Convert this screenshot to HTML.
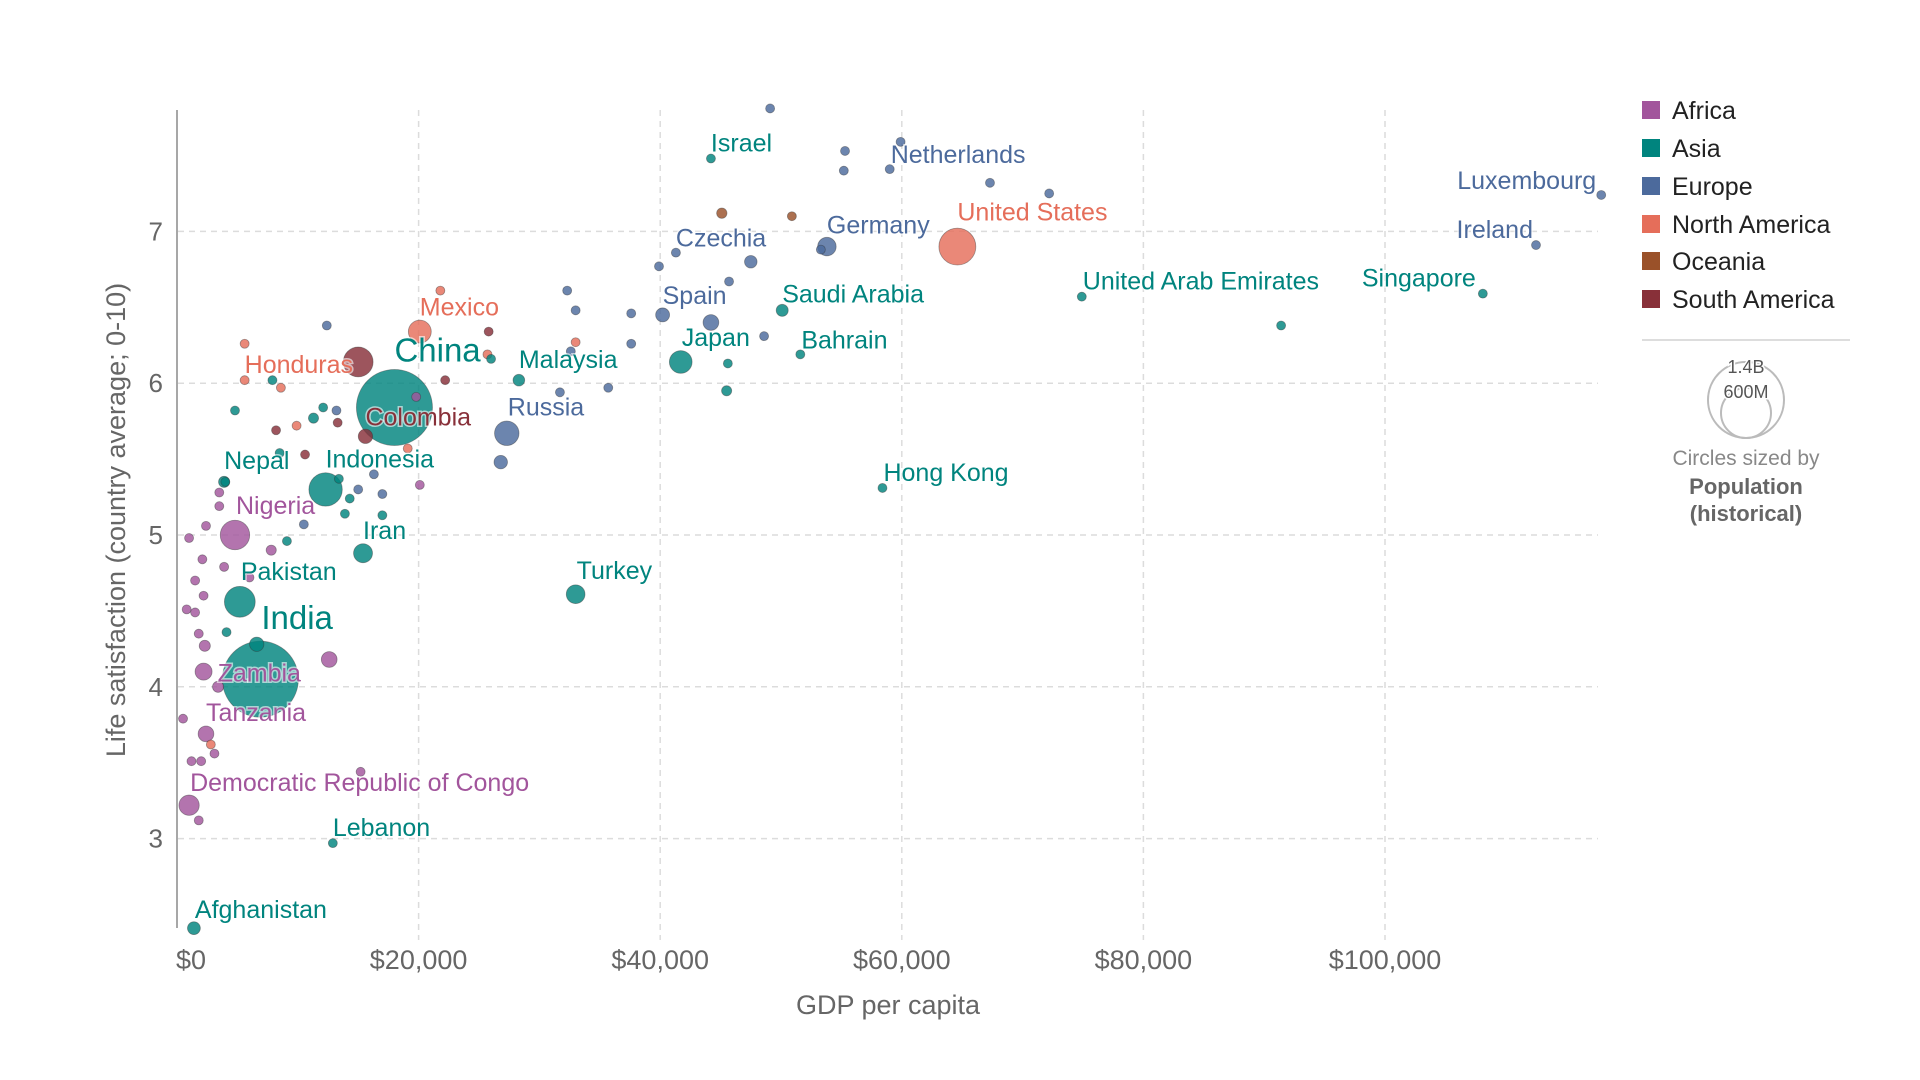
<!DOCTYPE html>
<html><head><meta charset="utf-8"><style>
html,body{margin:0;padding:0;background:#fff}
svg{display:block}
text{font-family:"Liberation Sans",sans-serif}
</style></head><body>
<svg id="chart" width="1920" height="1080" viewBox="0 0 1920 1080" xmlns="http://www.w3.org/2000/svg">
<g id="grid"></g>
<g id="axes"></g>
<g id="dots"></g>
<g id="labels"></g>
<g id="legend"></g>
</svg>
<script>
// ---- data ----
const regions = ["Africa","Asia","Europe","North America","Oceania","South America"];
const regionColors = ["#a2559c","#00847e","#4c6a9c","#e56e5a","#9a5129","#883039"];
const xTicks = [0,20000,40000,60000,80000,100000];
const xTickLabels = ["$0","$20,000","$40,000","$60,000","$80,000","$100,000"];
const yTicks = [3,4,5,6,7];
const yTickLabels = ["3","4","5","6","7"];

// labeled countries
const labNames = ["Afghanistan","Lebanon","Democratic Republic of Congo","Tanzania","Zambia","India","Pakistan","Iran","Nigeria","Indonesia","Nepal","Colombia","China","Honduras","Mexico","Malaysia","Russia","Turkey","Japan","Spain","Czechia","Israel","Germany","Saudi Arabia","Bahrain","Hong Kong","Netherlands","United States","United Arab Emirates","Singapore","Ireland","Luxembourg"];
const labRegion = [1,1,0,0,0,1,1,1,0,1,1,5,1,3,3,1,2,1,1,2,2,1,2,1,1,1,2,3,1,1,2,2];
const labGdp = [1400,12900,1000,2400,2200,6900,5200,15400,4800,12300,3900,15600,18000,5600,20100,28300,27300,33000,41700,40200,41300,44200,53800,50100,51600,58400,59000,64600,74900,108100,112500,117900];
const labLs = [2.41,2.97,3.22,3.69,4.10,4.05,4.56,4.88,5.00,5.30,5.35,5.65,5.84,6.02,6.34,6.02,5.67,4.61,6.14,6.45,6.86,7.48,6.90,6.48,6.19,5.31,7.41,6.90,6.57,6.59,6.91,7.24];
const labPop = [40,5,100,60,70,1400,230,87,210,270,30,50,1400,10,127,33,145,85,125,47,10,9,83,35,1.5,7,17,330,10,6,5,0.6];

// unlabeled countries
const othRegion = [2,2,2,2,2,2,2,2,2,2,2,2,2,2,2,2,2,2,2,2,2,2,2,2,2,2, 1,1,1,1,1,1,1,1,1,1,1,1,1,1,1,1,1, 0,0,0,0,0,0,0,0,0,0,0,0,0,0,0,0,0,0,0,0,0,0,0,0, 3,3,3,3,3,3,3,4,4,3, 5,5,5,5,5,5];
const othGdp = [49100,55300,55200,59900,67300,72200,47500,45700,44200,39900,48600,37600,37600,32300,33000,32600,35700,31700,26800,12400,13200,17000,15000,10500,16300,53300, 45600,45500,26000,91400,8500,11300,7900,4800,12100,9100,4000,4100,13400,14300,13900,17000,6600, 1000,2400,3500,3500,3900,1500,1500,1800,2300,2100,2200,800,7800,12600,500,1200,2000,3100,15200,20100,19800,3400,1800,6000, 5600,8600,9900,19100,21800,25700,33000,45100,50900,2800, 8200,10600,13300,15000,22200,25800];
const othLs = [7.81,7.53,7.40,7.59,7.32,7.25,6.80,6.67,6.40,6.77,6.31,6.46,6.26,6.61,6.48,6.21,5.97,5.94,5.48,6.38,5.82,5.27,5.30,5.07,5.40,6.88, 6.13,5.95,6.16,6.38,5.54,5.77,6.02,5.82,5.84,4.96,5.35,4.36,5.37,5.24,5.14,5.13,4.28, 4.98,5.06,5.19,5.28,4.79,4.70,4.49,4.35,4.27,4.84,4.60,4.51,4.90,4.18,3.79,3.51,3.51,3.56,3.44,5.33,5.91,4.00,3.12,4.72, 6.26,5.97,5.72,5.57,6.61,6.19,6.27,7.12,7.10,3.62, 5.69,5.53,5.74,6.14,6.02,6.34];
const othPop = [5.5,6,11,9,10,5,38,19,60,10,3,2.8,2,5,2,1.3,1.9,6,44,4,3,7,2,0.6,3,11, 1,25,1,2.7,20,25,4,2,5,15,10,20,7,6,3,4,50, 12,15,10,7,20,20,12,15,30,10,8,13,25,60,10,8,12,10,3,3,6,30,8,4, 4,6,7,4,5,3,4,26,5,11, 10,10,5,215,3,8];

// ---- scales ----
const X0 = 177, XW = 241.6/20000;
const Y7 = 231.4, YU = 151.8;
const xs = v => X0 + v*XW;
const ys = v => Y7 - (v-7)*YU;
const rs = p => Math.max(4.5, 38*Math.sqrt(p/1400));
const NS = "http://www.w3.org/2000/svg";
function mk(tag, attrs, parent){const e=document.createElementNS(NS,tag);for(const k in attrs)e.setAttribute(k,attrs[k]);parent.appendChild(e);return e;}

const grid = document.getElementById('grid');
yTicks.forEach((t,i)=>{
  const l = mk('line',{x1:178,x2:1598,y1:ys(t),y2:ys(t),stroke:'#dcdcdc','stroke-width':1.5,'stroke-dasharray':'6,5'},grid);
  
  
});
xTicks.forEach((t,i)=>{
  if(i===0) return;
  const l = mk('line',{x1:xs(t),x2:xs(t),y1:110,y2:940,stroke:'#dcdcdc','stroke-width':1.5,'stroke-dasharray':'6,5'},grid);
  
  
});

const axes = document.getElementById('axes');
const al = mk('line',{x1:177,x2:177,y1:110,y2:928,stroke:'#8a8a8a','stroke-width':1.5},axes);


yTicks.forEach((t,i)=>{
  const tx = mk('text',{x:163,y:ys(t)+9,'text-anchor':'end','font-size':26,fill:'#666'},axes);
  tx.textContent = yTickLabels[i];
  
  
});
xTicks.forEach((t,i)=>{
  const tx = mk('text',{x:i===0?xs(t)-1:xs(t),y:969,'text-anchor':i===0?'start':'middle','font-size':27,fill:'#666'},axes);
  tx.textContent = xTickLabels[i];
  
  
});
const xt = mk('text',{x:888,y:1014,'text-anchor':'middle','font-size':27,fill:'#666'},axes);
xt.textContent='GDP per capita';


const yt = mk('text',{x:0,y:0,'text-anchor':'middle','font-size':27,fill:'#666',transform:'translate(125,520) rotate(-90)'},axes);
yt.textContent='Life satisfaction (country average; 0-10)';



// dots: draw all, larger first
const dots = document.getElementById('dots');
const all = [];
othGdp.forEach((g,i)=>all.push({g,l:othLs[i],p:othPop[i],r:othRegion[i],n:''}));
labGdp.forEach((g,i)=>all.push({g,l:labLs[i],p:labPop[i],r:labRegion[i],n:labNames[i]}));
all.sort((a,b)=>b.p-a.p);
all.forEach(d=>{
  const c = mk('circle',{cx:xs(d.g),cy:ys(d.l),r:rs(d.p),fill:regionColors[d.r],'fill-opacity':0.82,stroke:'#333','stroke-opacity':0.45,'stroke-width':0.8},dots);
  
  
});

// label offsets (pixel placement, not data)
const labDx = [1,0,1,0,14,1,1,0,1,0,0,0,0,0,0,0,1,1,1,0,0,0,0,0,1,1,1,0,1,-7,-3,-5];
const labDy = [-10,-7,-14,-13,10,-50,-22,-14,-21,-22,-13,-11,-46,-7,-16,-12,-18,-15,-16,-11,-6,-7,-13,-8,-6,-7,-6,-26,-7,-7,-7,-6];
const labels = document.getElementById('labels');
labNames.forEach((n,i)=>{
  const big = (n==='China'||n==='India');
  const end = labDx[i]<0;
  const t = mk('text',{x:xs(labGdp[i])+labDx[i],y:ys(labLs[i])+labDy[i],'font-size':big?33:25,fill:regionColors[labRegion[i]],'text-anchor':end?'end':'start',stroke:'#fff','stroke-width':3,'paint-order':'stroke','stroke-opacity':0.6},labels);
  t.textContent = n;
  
  
});

// legend
const lg = document.getElementById('legend');
const rowY = [110,148,186,224,261,299];
regions.forEach((r,i)=>{
  const s = mk('rect',{x:1642,y:rowY[i]-9,width:18,height:18,fill:regionColors[i]},lg);
  
  
  const t = mk('text',{x:1672,y:rowY[i]+9,'font-size':25,fill:'#222'},lg);
  t.textContent = r;
  
  
});
const sep = mk('line',{x1:1642,x2:1850,y1:340,y2:340,stroke:'#ddd','stroke-width':2},lg);


const c1 = mk('circle',{cx:1746,cy:400,r:38,fill:'none',stroke:'#bbb','stroke-width':2},lg);


const c2 = mk('circle',{cx:1746,cy:413,r:25,fill:'none',stroke:'#bbb','stroke-width':2},lg);


const sl1 = mk('text',{x:1746,y:373,'text-anchor':'middle','font-size':18,fill:'#555',stroke:'#fff','stroke-width':3,'paint-order':'stroke'},lg);
sl1.textContent='1.4B';


const sl2 = mk('text',{x:1746,y:398,'text-anchor':'middle','font-size':18,fill:'#555',stroke:'#fff','stroke-width':3,'paint-order':'stroke'},lg);
sl2.textContent='600M';


const lt1 = mk('text',{x:1746,y:465,'text-anchor':'middle','font-size':21,fill:'#888'},lg);
lt1.textContent='Circles sized by';


const lt2 = mk('text',{x:1746,y:494,'text-anchor':'middle','font-size':22,'font-weight':'bold',fill:'#666'},lg);
lt2.textContent='Population';


const lt3 = mk('text',{x:1746,y:521,'text-anchor':'middle','font-size':22,'font-weight':'bold',fill:'#666'},lg);
lt3.textContent='(historical)';


</script>
</body></html>
